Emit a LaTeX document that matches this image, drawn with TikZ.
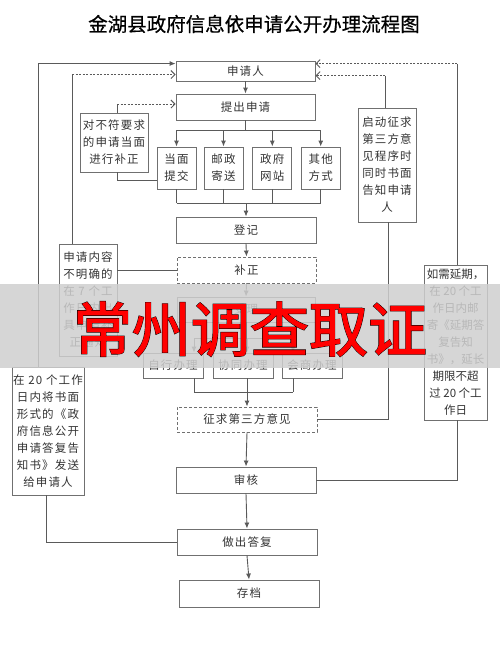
\documentclass[tikz,border=0pt]{standalone}
\usepackage{fontspec}
\newfontfamily\cjk{Noto Sans CJK SC}
\newfontfamily\cjksp[LetterSpace=10]{Noto Sans CJK SC}
\usetikzlibrary{arrows.meta, calc}
\definecolor{lineg}{HTML}{5A5A5A}
\definecolor{boxg}{HTML}{707070}
\definecolor{wmred}{HTML}{FF0000}
\definecolor{wmband}{HTML}{CFCFCF}
\tikzset{
  % riquadro del flusso
  box/.style={draw=boxg, line width=0.9pt, minimum height=26pt, minimum width=140pt,
    inner sep=0pt, align=center, text=black!80, font=\cjksp\fontsize{11.5}{17}\selectfont},
  dbox/.style={box, dashed, dash pattern=on 3pt off 2pt},
  % modalita' di presentazione
  sbox/.style={box, minimum width=39pt, minimum height=42pt},
  % modalita' di trattamento
  hbox/.style={box, minimum width=60pt, minimum height=25pt},
  % collegamenti
  flow/.style={draw=lineg, line width=0.9pt, -{Latex[length=6pt, width=5pt]}},
  link/.style={draw=lineg, line width=0.9pt},
  back/.style={draw=lineg, line width=0.9pt, dashed, dash pattern=on 2pt off 1.5pt,
    -{Straight Barb[length=4pt, width=8pt]}},
}

\begin{document}
\begin{tikzpicture}[x=1pt, y=-1pt]
  \useasboundingbox (0,0) rectangle (500,653);
  \node[font=\cjk\fontsize{19.5}{20}\selectfont\addfontfeature{FakeBold=0.6}] (title) at (254,24) {金湖县政府信息依申请公开办理流程图};

  \node[box, minimum width=139pt, minimum height=20pt] (apl) at (245.5,71) {申请人};
  \node[box, minimum width=139pt] (tcsq) at (245.5,107) {提出申请};
  \node[sbox] (dm) at (176.5,168) {当面\\提交};
  \node[sbox] (yz) at (223.5,168) {邮政\\寄送};
  \node[sbox] (zf) at (272.3,168) {政府\\网站};
  \node[sbox] (qt) at (320.7,168) {其他\\方式};
  \node[box] (dj) at (246,230) {登记};
  \node[dbox, minimum width=139pt] (bz) at (246.5,270) {补正};
  \node[box, minimum width=138pt, minimum height=25pt] (sl) at (246,309.5) {受理};
  \node[hbox] (zx) at (173,365.5) {自行办理};
  \node[hbox] (xt) at (243,365.5) {协同办理};
  \node[hbox] (hs) at (312,365.5) {会商办理};
  \node[dbox, minimum height=25pt] (zq) at (247,419.5) {征求第三方意见};
  \node[box] (sh) at (246,480) {审核};
  \node[box] (zd) at (247,542) {做出答复};
  \node[box, minimum height=27pt] (cd) at (249,593.5) {存档};

  \node[box, minimum width=68pt, minimum height=59pt] (bf) at (114,142.5) {对不符要求\\的申请当面\\进行补正};
  \node[box, minimum width=58pt, minimum height=114pt] (qd) at (387,165) {启动征求\\第三方意\\见程序时\\同时书面\\告知申请\\人};
  \node[box, minimum width=58pt, minimum height=112pt] (nr) at (88,300) {申请内容\\不明确的\\在 7 个工\\作日内出\\具申请补\\正通知};
  \node[box, minimum width=72pt, minimum height=128pt] (fs) at (48,431) {在 20 个工作\\日内将书面\\形式的《政\\府信息公开\\申请答复告\\知书》发送\\给申请人};
  \node[box, minimum width=63pt, minimum height=155pt, font=\cjk\fontsize{11.5}{17}\selectfont] (yq) at (455.5,342.5) {如需延期，\\在 20 个工\\作日内邮\\寄《延期答\\复告知\\书》，延长\\期限不超\\过 20 个工\\作日};

  \draw[flow] (apl.south) -- (tcsq.north);
  \draw[link] (tcsq.south) -- ++(0,10) coordinate (fork1);
  \draw[link] (dm.north |- fork1) -- (qt.north |- fork1);
  \foreach \n in {dm, yz, zf, qt}
    \draw[flow] (\n.north |- fork1) -- (\n.north);
  \coordinate (join1) at (0,203);
  \foreach \n in {dm, yz, zf, qt}
    \draw[link] (\n.south) -- (\n.south |- join1);
  \draw[link] (dm.south |- join1) -- (qt.south |- join1);
  \draw[flow] (dj.north |- join1) -- (dj.north);
  \draw[flow] (dj.south) -- (bz.north);
  \draw[flow] (bz.south) -- (sl.north);

  \coordinate (fork2) at (0,338);
  \coordinate (join2) at (0,392);
  \draw[link] (sl.south) -- (sl.south |- fork2);
  \draw[link] ([xshift=21pt]zx.north |- fork2) -- ([xshift=-19pt]hs.north |- fork2);
  \draw[link] ([xshift=21pt]zx.south |- join2) -- ([xshift=-19pt]hs.south |- join2);
  \foreach \n/\dx in {zx/21, xt/4, hs/-19} {
    \draw[flow] ([xshift=\dx pt]\n.north |- fork2) -- ([xshift=\dx pt]\n.north);
    \draw[link] ([xshift=\dx pt]\n.south) -- ([xshift=\dx pt]\n.south |- join2);
  }
  \draw[flow] (zq.north |- join2) -- (zq.north);
  \draw[flow] (zq.south) -- (sh.north);
  \draw[flow] (sh.south) -- (zd.north);
  \draw[flow] (zd.south) -- (cd.north);

  \draw[link] ([xshift=3pt]bf.south) |- ([yshift=-12pt]dm.west);
  \draw[link] ([xshift=3pt]bf.north) -- ++(0,-8.5) coordinate (bfup);
  \draw[back] (bfup) -- (tcsq.west |- bfup);
  \draw[link] (nr.east |- bz.west) -- (bz.west);
  \draw[link] ([xshift=-16pt]nr.north) -- ++(0,-169) coordinate (nrup);
  \draw[back] (nrup) -- (apl.west |- nrup);
  \draw[link] ([xshift=-10pt]fs.north) -- ++(0,-303) coordinate (fsup);
  \draw[flow] (fsup) -- (apl.west |- fsup);
  \draw[link] ([xshift=-2pt]fs.south) |- (zd.west);
  \draw[link] ([xshift=-2pt]qd.north) -- ++(0,-32) coordinate (qdup);
  \draw[back] (qdup) -- (apl.east |- qdup);
  \draw[link] ([xshift=1pt]qd.south) |- (zq.east);
  \draw[link] ([xshift=1.5pt]yq.north) -- ++(0,-201) coordinate (yqup);
  \draw[back] (yqup) -- (apl.east |- yqup);
  \draw[link] ([xshift=1.5pt]yq.south) |- (sh.east);

  \fill[wmband, opacity=0.85] (0,284) rectangle (500,368);
  \node[font=\cjk\fontsize{59}{59}\selectfont\addfontfeature{FakeBold=3}, text=black] (wmshadow) at (250,329) {常州调查取证};
  \node[font=\cjk\fontsize{59}{59}\selectfont\addfontfeature{FakeBold=1.5}, text=wmred] (wm) at (250,329) {常州调查取证};
\end{tikzpicture}
\end{document}
